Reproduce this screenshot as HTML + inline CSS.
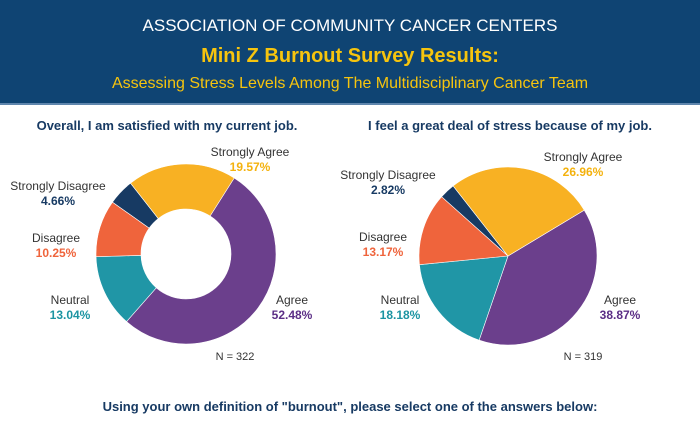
<!DOCTYPE html>
<html><head><meta charset="utf-8"><style>
html,body{margin:0;padding:0;background:#fff}
body{width:700px;height:424px;overflow:hidden;font-family:"Liberation Sans",sans-serif}
</style></head><body>
<svg width="700" height="424" xmlns="http://www.w3.org/2000/svg" font-family="Liberation Sans, sans-serif">
<rect x="0" y="0" width="700" height="103" fill="#0f4473"/>
<rect x="0" y="103" width="700" height="2" fill="#5f86ad"/>
<text x="350" y="31" text-anchor="middle" fill="#fff" font-size="17">ASSOCIATION OF COMMUNITY CANCER CENTERS</text>
<text x="350" y="62" text-anchor="middle" fill="#f6c40e" font-size="20" font-weight="bold">Mini Z Burnout Survey Results:</text>
<text x="350" y="88" text-anchor="middle" fill="#f6c40e" font-size="16">Assessing Stress Levels Among The Multidisciplinary Cancer Team</text>
<g id="left"></g>
<g id="right"></g>
<text x="350" y="411" text-anchor="middle" fill="#173a63" font-size="13" font-weight="bold">Using your own definition of "burnout", please select one of the answers below:</text>
</svg>
<script>
const categories=["Agree","Neutral","Disagree","Strongly Disagree","Strongly Agree"];
const satisfiedValues=[52.48,13.04,10.25,4.66,19.57];
const stressValues=[38.87,18.18,13.17,2.82,26.96];
const satisfiedN=322;
const stressN=319;
const colors=["#6b3f8c","#2096a6","#ef643c","#173a63","#f8b123"];
const textColors=["#5b2e86","#1c94a2","#ef643c","#173a63","#f4b20e"];
const NS="http://www.w3.org/2000/svg";
function mk(tag,attrs,parent){const e=document.createElementNS(NS,tag);for(const k in attrs)e.setAttribute(k,attrs[k]);parent.appendChild(e);return e;}
function pt(cx,cy,r,deg){const a=deg*Math.PI/180;return [cx+r*Math.sin(a),cy-r*Math.cos(a)];}
function drawChart(g,title,titleX,values,cx,cy,r,ir,start,labelPos,n,nPos){
  const t=mk('text',{x:titleX,y:130,'text-anchor':'middle',fill:'#173a63','font-size':13,'font-weight':'bold'},g);
  t.textContent=title;
  
  
  const total=values.reduce((a,b)=>a+b,0);
  let ang=start;
  values.forEach((v,i)=>{
    const sw=v/total*360, a0=ang, a1=ang+sw; ang=a1;
    const large=sw>180?1:0;
    const [x0,y0]=pt(cx,cy,r,a0),[x1,y1]=pt(cx,cy,r,a1);
    let d;
    if(ir>0){const [x2,y2]=pt(cx,cy,ir,a1),[x3,y3]=pt(cx,cy,ir,a0);
      d=`M${x0},${y0}A${r},${r} 0 ${large} 1 ${x1},${y1}L${x2},${y2}A${ir},${ir} 0 ${large} 0 ${x3},${y3}Z`;}
    else d=`M${cx},${cy}L${x0},${y0}A${r},${r} 0 ${large} 1 ${x1},${y1}Z`;
    const p=mk('path',{d:d,fill:colors[i],stroke:'#fff','stroke-width':0.6},g);
    
    
    const [lx,ly]=labelPos[i];
    const l1=mk('text',{x:lx,y:ly,'text-anchor':'middle',fill:'#333','font-size':12},g);
    l1.textContent=categories[i];
    
    
    const l2=mk('text',{x:lx,y:ly+15,'text-anchor':'middle',fill:textColors[i],'font-size':12,'font-weight':'bold'},g);
    l2.textContent=v.toFixed(2)+'%';
    
    
  });
  const nt=mk('text',{x:nPos[0],y:nPos[1],'text-anchor':'middle',fill:'#333','font-size':11},g);
  nt.textContent='N = '+n;
  
  
}
drawChart(document.getElementById('left'),'Overall, I am satisfied with my current job.',167,satisfiedValues,186,254,90,45,32.4,
  [[292,304],[70,304],[56,242],[58,190],[250,156]],satisfiedN,[235,360]);
drawChart(document.getElementById('right'),'I feel a great deal of stress because of my job.',510,stressValues,508,256,89,0,59,
  [[620,304],[400,304],[383,241],[388,179],[583,161]],stressN,[583,360]);
</script>
</body></html>
